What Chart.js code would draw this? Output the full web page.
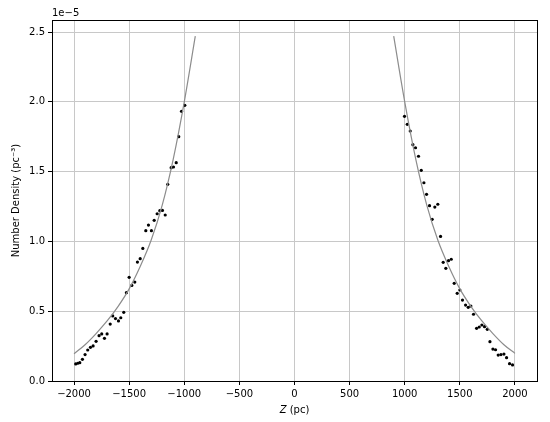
<!DOCTYPE html>
<html>
<head>
<meta charset="utf-8">
<script src="https://cdn.jsdelivr.net/npm/chart.js@4.4.1/dist/chart.umd.min.js"></script>
<style>
  body { margin: 0; background: #fff; }
</style>
</head>
<body>
<canvas id="myChart" width="550" height="422"></canvas>
<script>
// Measured points (number density in units of 1e-5 pc^-3)
var leftZ = [-1985, -1966, -1948, -1924, -1900, -1876, -1851, -1827, -1800, -1773,
  -1749, -1724, -1700, -1672, -1649, -1624, -1597, -1576, -1549, -1525,
  -1500, -1476, -1449, -1425, -1400, -1376, -1349, -1325, -1298, -1273,
  -1246, -1222, -1198, -1173, -1150, -1119, -1098, -1073, -1050, -1025, -995];
var leftN = [0.122, 0.127, 0.131, 0.155, 0.189, 0.222, 0.241, 0.251, 0.284, 0.325,
  0.337, 0.306, 0.337, 0.408, 0.466, 0.447, 0.430, 0.453, 0.492, 0.633,
  0.743, 0.685, 0.709, 0.852, 0.876, 0.950, 1.077, 1.117, 1.077, 1.151,
  1.198, 1.220, 1.222, 1.189, 1.409, 1.528, 1.533, 1.564, 1.750, 1.932, 1.975];

var rightZ = [998, 1023, 1050, 1074, 1098, 1125, 1150, 1174, 1198, 1225,
  1249, 1273, 1300, 1325, 1349, 1373, 1397, 1422, 1449, 1476,
  1500, 1524, 1552, 1576, 1600, 1624, 1652, 1676, 1700, 1724,
  1749, 1773, 1800, 1824, 1848, 1873, 1900, 1924, 1951, 1978];
var rightN = [1.896, 1.839, 1.791, 1.693, 1.671, 1.610, 1.509, 1.420, 1.337, 1.256,
  1.158, 1.246, 1.266, 1.036, 0.850, 0.807, 0.862, 0.872, 0.700, 0.628,
  0.652, 0.580, 0.544, 0.528, 0.537, 0.478, 0.377, 0.387, 0.401, 0.389,
  0.370, 0.282, 0.229, 0.224, 0.186, 0.189, 0.193, 0.167, 0.124, 0.115];

// Model curve
var fitLeftZ = [-2000, -1900, -1800, -1700, -1600, -1500, -1400, -1300, -1200, -1100, -1000, -900];
var fitLeftN = [0.195, 0.26, 0.34, 0.43, 0.535, 0.66, 0.82, 1.01, 1.26, 1.59, 2.00, 2.47];
var fitRightZ = [900, 1000, 1100, 1200, 1300, 1400, 1500, 1600, 1700, 1800, 1900, 2000];
var fitRightN = [2.47, 2.00, 1.59, 1.26, 1.01, 0.82, 0.66, 0.535, 0.43, 0.34, 0.26, 0.198];

var xTicks = [-2000, -1500, -1000, -500, 0, 500, 1000, 1500, 2000];
var yTicks = [0.0, 0.5, 1.0, 1.5, 2.0, 2.5];

function toXY(xs, ys) {
  return xs.map(function (x, i) { return { x: x, y: ys[i] }; });
}

var FONT = "'DejaVu Sans', sans-serif";

// box around the axes plus the text matplotlib puts outside them
var frame = {
  id: "frame",
  afterDraw: function (chart) {
    var c = chart.ctx, a = chart.chartArea;
    c.save();
    c.strokeStyle = "#000";
    c.lineWidth = 1;
    c.strokeRect(Math.round(a.left) + 0.5, Math.round(a.top) + 0.5,
      Math.round(a.right - a.left), Math.round(a.bottom - a.top));
    c.fillStyle = "#000";
    c.font = "10px " + FONT;
    c.textBaseline = "alphabetic";
    c.textAlign = "left";
    c.fillText("1e\u22125", a.left, a.top - 4);
    // x title: italic Z
    var t1 = "Z", t2 = " (pc)";
    c.font = "italic 10px " + FONT;
    var w1 = c.measureText(t1).width;
    c.font = "10px " + FONT;
    var w2 = c.measureText(t2).width;
    var cx = (a.left + a.right) / 2, x0 = cx - (w1 + w2) / 2;
    c.textBaseline = "middle";
    c.font = "italic 10px " + FONT;
    c.fillText(t1, x0, 410);
    c.font = "10px " + FONT;
    c.fillText(t2, x0 + w1, 410);
    // y title
    c.translate(16, (a.top + a.bottom) / 2);
    c.rotate(-Math.PI / 2);
    c.textAlign = "center";
    c.fillText("Number Density (pc\u207B\u00B3)", 0, 0);
    c.restore();
  }
};

var ctx = document.getElementById("myChart").getContext("2d");
var myChart = new Chart(ctx, {
  type: "scatter",
  data: {
    datasets: [
      {
        data: toXY(fitLeftZ, fitLeftN),
        showLine: true,
        borderColor: "#8c8c8c",
        borderWidth: 1.2,
        pointRadius: 0,
        cubicInterpolationMode: "monotone"
      },
      {
        data: toXY(fitRightZ, fitRightN),
        showLine: true,
        borderColor: "#8c8c8c",
        borderWidth: 1.2,
        pointRadius: 0,
        cubicInterpolationMode: "monotone"
      },
      {
        data: toXY(leftZ, leftN),
        backgroundColor: "#000",
        borderWidth: 0,
        pointRadius: 1.6
      },
      {
        data: toXY(rightZ, rightN),
        backgroundColor: "#000",
        borderWidth: 0,
        pointRadius: 1.6
      }
    ]
  },
  options: {
    responsive: false,
    animation: false,
    layout: { padding: { top: 20, right: 13, left: 0, bottom: 0 } },
    plugins: { legend: { display: false }, tooltip: { enabled: false } },
    scales: {
      x: {
        type: "linear",
        min: -2200,
        max: 2200,
        afterFit: function (s) { s.height = 41; },
        afterBuildTicks: function (s) { s.ticks = xTicks.map(function (v) { return { value: v }; }); },
        grid: { color: "#c8c8c8", lineWidth: 1, tickColor: "#000", tickLength: 4 },
        border: { display: false },
        ticks: {
          color: "#000",
          font: { family: FONT, size: 10 },
          padding: 3,
          maxRotation: 0,
          callback: function (v) { return v < 0 ? "\u2212" + Math.abs(v) : String(v); }
        }
      },
      y: {
        type: "linear",
        min: 0,
        max: 2.586,
        afterFit: function (s) { s.width = 52; },
        afterBuildTicks: function (s) { s.ticks = yTicks.map(function (v) { return { value: v }; }); },
        grid: { color: "#c8c8c8", lineWidth: 1, tickColor: "#000", tickLength: 4 },
        border: { display: false },
        ticks: {
          color: "#000",
          font: { family: FONT, size: 10 },
          padding: 3,
          callback: function (v) { return v.toFixed(1); }
        }
      }
    }
  },
  plugins: [frame]
});
</script>
</body>
</html>
